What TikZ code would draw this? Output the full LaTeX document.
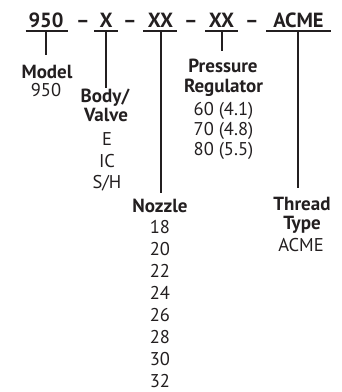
\documentclass[tikz,border=0pt]{standalone}
\usepackage{fontspec}
\setmainfont{PT Sans}
\definecolor{ink}{HTML}{231F20}
\begin{document}
\begin{tikzpicture}[x=1pt,y=-1pt,
  hdr/.style={anchor=base,inner sep=0pt,font=\fontsize{20.5}{24}\selectfont\bfseries,text=ink},
  lbl/.style={anchor=base,inner sep=0pt,font=\fontsize{19}{22}\selectfont\bfseries,text=ink},
  val/.style={anchor=base,inner sep=0pt,font=\fontsize{18.5}{22}\selectfont,text=ink},
  uline/.style={draw=ink,line width=2pt},
  vline/.style={draw=ink,line width=1.1pt}]
\useasboundingbox (0,0) rectangle (341,392);
% header
\node[hdr] (h1) at (46,27) {950};
\node[hdr] (d1) at (83,27) {–};
\node[hdr] (h2) at (106,27) {X};
\node[hdr] (d2) at (130,27) {–};
\node[hdr] (h3) at (160.5,27) {XX};
\node[hdr] (d3) at (191,27) {–};
\node[hdr] (h4) at (221.5,27) {XX};
\node[hdr] (d4) at (252,27) {–};
\node[hdr] (h5) at (298.5,27) {ACME};
% underline end points
\coordinate (a1) at (25.5,30.5); \coordinate (b1) at (67.5,30.5);
\coordinate (a2) at (94,30.5);   \coordinate (b2) at (118,30.5);
\coordinate (a3) at (143,30.5);  \coordinate (b3) at (177,30.5);
\coordinate (a4) at (205,30.5);  \coordinate (b4) at (237.5,30.5);
\coordinate (a5) at (266,30.5);  \coordinate (b5) at (330.5,30.5);
\draw[uline] (a1) -- (b1);
\draw[uline] (a2) -- (b2);
\draw[uline] (a3) -- (b3);
\draw[uline] (a4) -- (b4);
\draw[uline] (a5) -- (b5);
% vertical connectors
\coordinate (t1) at (46,31);  \coordinate (e1) at (46,55);
\coordinate (t2) at (106,31); \coordinate (e2) at (106,88);
\coordinate (t3) at (161,31); \coordinate (e3) at (161,193);
\coordinate (t4) at (222,31); \coordinate (e4) at (222,51);
\coordinate (t5) at (298,31); \coordinate (e5) at (298,188);
\draw[vline] (t1) -- (e1);
\draw[vline] (t2) -- (e2);
\draw[vline] (t3) -- (e3);
\draw[vline] (t4) -- (e4);
\draw[vline] (t5) -- (e5);
% Model
\node[lbl] (model) at (47,78) {Model};
\node[val] (m950) at (46,96) {950};
% Body/Valve
\node[lbl] (body) at (105,102) {Body/};
\node[lbl] (valve) at (106,121) {Valve};
\node[val] (vE) at (107,145) {E};
\node[val] (vIC) at (107,167) {IC};
\node[val] (vSH) at (107,188) {S/H};
% Pressure regulator
\node[lbl] (press) at (223,72.5) {Pressure};
\node[lbl] (reg) at (223.5,92) {Regulator};
\node[val] (p60) at (223.5,115) {60 (4.1)};
\node[val] (p70) at (223.5,135) {70 (4.8)};
\node[val] (p80) at (223.5,155) {80 (5.5)};
% Nozzle
\node[lbl] (noz) at (160,212) {Nozzle};
\foreach \n [count=\i from 0] in {18,20,22,24,26,28,30,32}
  \node[val] (n\n) at (160,233+22.14*\i) {\n};
% Thread type
\node[lbl] (thr) at (302,210) {Thread};
\node[lbl] (typ) at (302,229.5) {Type};
\node[val] (acme) at (301,251) {ACME};
\end{tikzpicture}
\end{document}
